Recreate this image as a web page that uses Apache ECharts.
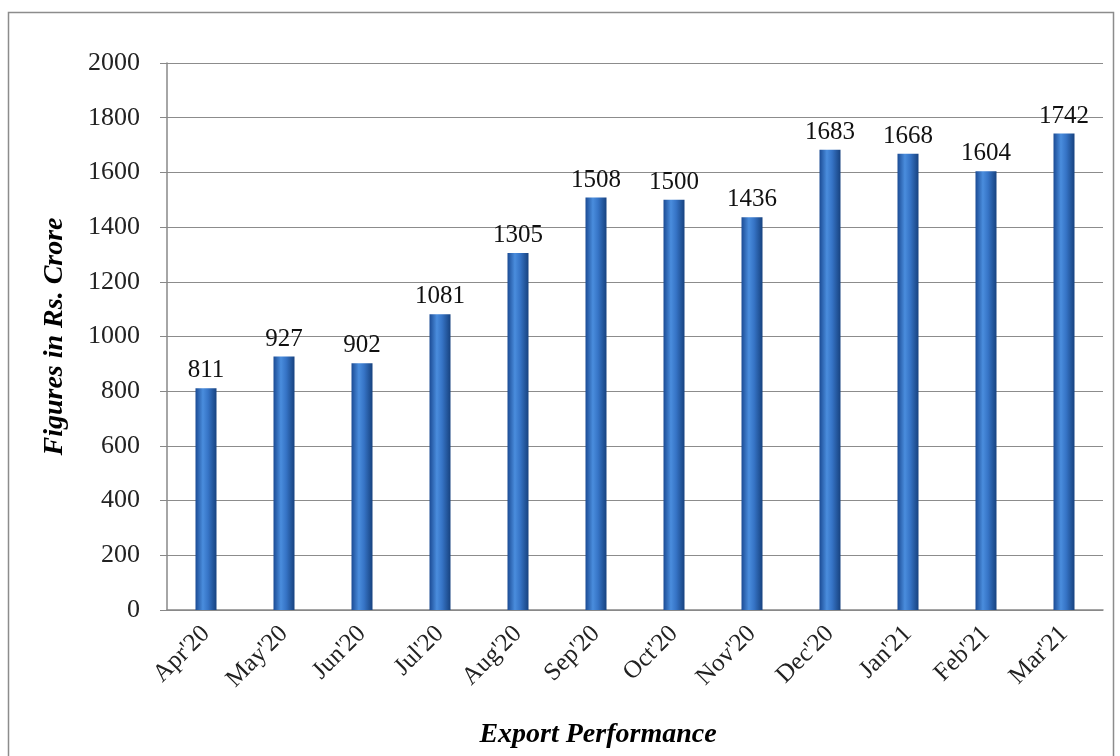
<!DOCTYPE html>
<html>
<head>
<meta charset="utf-8">
<script src="https://cdn.jsdelivr.net/npm/echarts@6/dist/echarts.min.js"></script>
<style>
  html, body { margin: 0; padding: 0; background: #fff; }
  #main { width: 1120px; height: 756px; }
</style>
</head>
<body>
<div id="main"></div>
<script>
// months and export values (Rs. Crore)
var months = ["Apr'20", "May'20", "Jun'20", "Jul'20", "Aug'20", "Sep'20", "Oct'20", "Nov'20", "Dec'20", "Jan'21", "Feb'21", "Mar'21"];
var exportValues = [811, 927, 902, 1081, 1305, 1508, 1500, 1436, 1683, 1668, 1604, 1742];

var serif = '"Liberation Serif", "Times New Roman", serif';

var myChart = echarts.init(document.getElementById('main'));

// cylinder look for the bars
var barColor = new echarts.graphic.LinearGradient(0, 0, 1, 0, [
    { offset: 0, color: '#1b4b94' },
    { offset: 0.35, color: '#4a8ddd' },
    { offset: 0.6, color: '#3674c6' },
    { offset: 1, color: '#17427f' }
]);

var option = {
    animation: false,
    graphic: [{
        type: 'rect',
        shape: { x: 8.5, y: 12.5, width: 1105, height: 760 },
        style: { fill: 'none', stroke: '#8c8c8c', lineWidth: 1.5 }
    }],
    grid: { left: 167, right: 17, top: 63, bottom: 146, outerBoundsMode: 'none' },
    xAxis: {
        type: 'category',
        data: months,
        name: 'Export Performance',
        nameLocation: 'middle',
        nameGap: 111,
        nameTextStyle: { fontFamily: serif, fontStyle: 'italic', fontWeight: 'bold', fontSize: 28, color: '#000', padding: [0, 74, 0, 0] },
        axisLine: { lineStyle: { color: '#888', width: 1.5 } },
        axisTick: { show: false },
        axisLabel: { rotate: 45, fontFamily: serif, fontSize: 25, color: '#222', margin: 20, interval: 0 }
    },
    yAxis: {
        type: 'value',
        min: 0,
        max: 2000,
        interval: 200,
        name: 'Figures in Rs. Crore',
        nameLocation: 'middle',
        nameGap: 98,
        nameTextStyle: { fontFamily: serif, fontStyle: 'italic', fontWeight: 'bold', fontSize: 28, color: '#000' },
        axisLine: { show: true, lineStyle: { color: '#888', width: 1.5 } },
        axisTick: { show: true, length: 7, lineStyle: { color: '#888' } },
        axisLabel: { fontFamily: serif, fontSize: 26, color: '#222', margin: 27, formatter: function (v) { return String(v); } },
        splitLine: { lineStyle: { color: '#8c8c8c', width: 1 } }
    },
    series: [{
        name: 'Export',
        type: 'bar',
        data: exportValues,
        barWidth: 21,
        itemStyle: { color: barColor },
        label: {
            show: true,
            position: 'top',
            distance: 5,
            fontFamily: serif,
            fontSize: 25,
            color: '#111'
        }
    }]
};
myChart.setOption(option);
</script>
</body>
</html>
